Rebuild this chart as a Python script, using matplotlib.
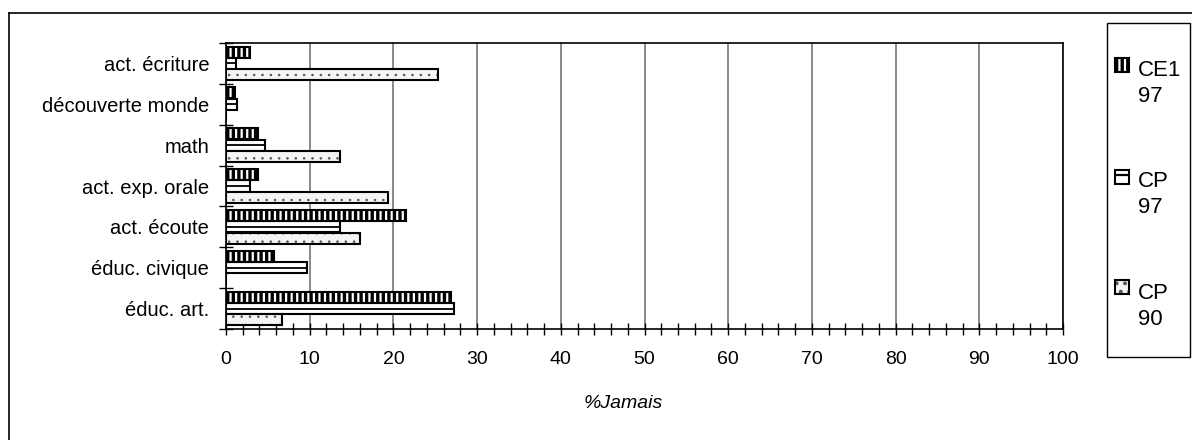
import matplotlib
matplotlib.use("Agg")
from matplotlib import pyplot as plt
from matplotlib.patches import Rectangle
from matplotlib.lines import Line2D
import numpy as np

categories = ['act. écriture', 'découverte monde', 'math', 'act. exp. orale',
              'act. écoute', 'éduc. civique', 'éduc. art.']
ce1_97 = [2.9, 1.1, 3.8, 3.8, 21.5, 5.7, 26.9]
cp_97 = [1.2, 1.35, 4.7, 2.9, 13.6, 9.7, 27.2]
cp_90 = [25.3, 0, 13.6, 19.4, 16.0, 0, 6.7]
series_labels = ['CE1\n97', 'CP\n97', 'CP\n90']
x_ticks = np.arange(0, 101, 10)

plt.rcParams['font.family'] = ['Liberation Sans', 'DejaVu Sans']
plt.rcParams['hatch.linewidth'] = 1.6

W, H = 1192, 440
fig = plt.figure(figsize=(W / 100, H / 100), dpi=100)

# axes box in pixels: left 226, right 1063, top 43, bottom 329
ax = fig.add_axes([226 / W, 1 - 329 / H, (1063 - 226) / W, (329 - 43) / H])

y = np.arange(len(categories))
bh = 0.27
off = 0.277
edge = 1.5


def hatch_lw(patches, lw):
    for p in patches:
        if hasattr(p, 'set_hatch_linewidth'):
            p.set_hatch_linewidth(lw)


# CE1 97 : black with white vertical slits
b1 = ax.barh(y - off, ce1_97, height=bh, color='black', edgecolor='white',
             hatch='|||', linewidth=0, zorder=3)
hatch_lw(b1, 1.6)
ax.barh(y - off, ce1_97, height=bh, facecolor='none', edgecolor='black',
        linewidth=edge, zorder=4)

# CP 97 : white with a line through the middle
ax.barh(y, cp_97, height=bh, color='white', edgecolor='black',
        linewidth=edge, zorder=3)
ax.hlines(y, 0, cp_97, color='black', linewidth=1.3, zorder=4)

# CP 90 : light dotted
b3 = ax.barh(y + off, cp_90, height=bh, color='#f4f4f4', edgecolor='#555555',
             hatch='..', linewidth=0, zorder=3)
hatch_lw(b3, 0.6)
ax.barh(y + off, cp_90, height=bh, facecolor='none', edgecolor='black',
        linewidth=edge, zorder=4)

ax.set_xlim(0, 100)
ax.set_ylim(len(categories) - 0.5, -0.5)

ax.set_xticks(x_ticks)
ax.set_xticks(np.arange(0, 101, 2), minor=True)
ax.tick_params(axis='x', which='both', direction='inout', length=8, width=1,
               labelsize=14, pad=12)

ax.set_yticks(np.arange(len(categories) + 1) - 0.5)
ax.set_yticklabels([])
ax.set_yticks(y, minor=True)
ax.set_yticklabels(categories, minor=True)
ax.tick_params(axis='y', which='major', direction='inout', length=10, width=1)
ax.tick_params(axis='y', which='minor', length=0, labelsize=14.5, pad=12)

ax.grid(axis='x', which='major', color='#808080', linewidth=1.3, zorder=0)
ax.set_axisbelow(True)
for s in ax.spines.values():
    s.set_linewidth(1.2)
    s.set_zorder(5)

ax.set_xlabel('%Jamais', fontsize=14, style='italic', va='center')
ax.xaxis.set_label_coords((623 - 226) / (1063 - 226), -(403 - 329) / (329 - 43))

# outer frame (only top and left visible)
fig.add_artist(Line2D([9 / W, 9 / W], [0, 1 - 13 / H], color='black', lw=1.2))
fig.add_artist(Line2D([9 / W, 1], [1 - 13 / H, 1 - 13 / H], color='black', lw=1.2))

# legend box
fig.add_artist(Rectangle((1107 / W, 1 - 357 / H), 83 / W, 334 / H,
                         facecolor='white', edgecolor='black', lw=1.0))
styles = [dict(facecolor='black', edgecolor='white', hatch='|||'),
          dict(facecolor='white', edgecolor='black', hatch='-'),
          dict(facecolor='#f4f4f4', edgecolor='#555555', hatch='..')]
mark_tops = [58, 170, 280]
text_mid = [83.5, 194.5, 306.5]
for lab, st, mt, tm in zip(series_labels, styles, mark_tops, text_mid):
    r = Rectangle((1115 / W, 1 - (mt + 14) / H), 14 / W, 14 / H, lw=0, **st)
    fig.add_artist(r)
    fig.add_artist(Rectangle((1115 / W, 1 - (mt + 14) / H), 14 / W, 14 / H,
                             facecolor='none', edgecolor='black', lw=1.5))
    fig.text(1138 / W, 1 - tm / H, lab, fontsize=16, va='center', ha='left',
             linespacing=1.3)

fig.savefig('out.png', dpi=100)
